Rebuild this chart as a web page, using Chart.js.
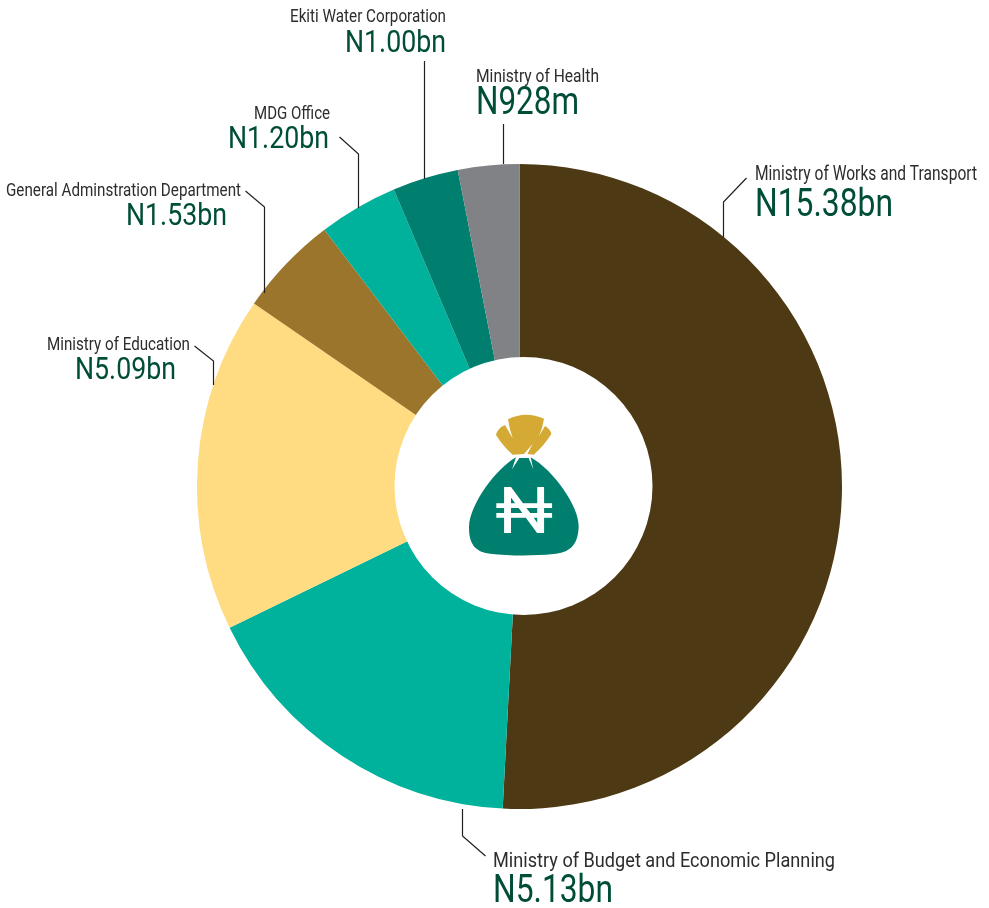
<!DOCTYPE html>
<html>
<head>
<meta charset="utf-8">
<style>html,body{margin:0;padding:0;background:#fff}canvas{display:block}</style>
<script src="https://cdn.jsdelivr.net/npm/chart.js@4/dist/chart.umd.min.js"></script>
</head>
<body>
<canvas id="c" width="989" height="908"></canvas>
<script>
const categories = ["Ministry of Works and Transport","Ministry of Budget and Economic Planning","Ministry of Education","General Adminstration Department","MDG Office","Ekiti Water Corporation","Ministry of Health"];
const values = [15.38,5.13,5.09,1.53,1.20,1.00,0.928];
const valueLabels = ["N15.38bn","N5.13bn","N5.09bn","N1.53bn","N1.20bn","N1.00bn","N928m"];
const colors = ["#4d3a14","#00b29c","#ffdc82","#9b752c","#00b29c","#007e6e","#808285"];

// Annotation layout, in page pixels, one row per category
// [align, nameX, nameBaseline, nameSize, nameWidth, valueX, valueBaseline, valueSize, valueWidth]
const labelLayout = [
  ["left",755,180,19.5,222,755,216,38,138],
  ["left",493,867,20.5,342,493,902,38,120],
  ["right",190,350,18,143,176,379,32,101],
  ["right",241,196,18,235,227,225,32,101],
  ["right",330,119,18,76,329,148,32,101],
  ["right",446,22,18,156,446,52,32,101],
  ["left",476,82,18,123,476,114,38,103]
];
const leaderLines = [
  [[746,178],[723,202],[723,237]],
  [[462,809],[462,836],[485,856]],
  [[194,346],[213,361],[213,385]],
  [[245,191],[264,207],[264,293]],
  [[339,137],[358,154],[358,208]],
  [[424,61],[424,179]],
  [[503,124],[503,164]]
];
const centreHole = {x:523.5,y:486,r:129};

const annotations = {
  id:"annotations",
  afterDraw(chart){
    const ctx = chart.ctx;
    ctx.save();
    ctx.fillStyle = "#ffffff";
    ctx.beginPath();
    ctx.arc(centreHole.x,centreHole.y,centreHole.r,0,Math.PI*2);
    ctx.fill();
    ctx.strokeStyle = "#231f20"; ctx.lineWidth = 1.2;
    leaderLines.forEach(pts=>{
      ctx.beginPath();
      pts.forEach((p,i)=> i ? ctx.lineTo(p[0]+0.5,p[1]) : ctx.moveTo(p[0]+0.5,p[1]));
      ctx.stroke();
    });
    ctx.textBaseline = "alphabetic";
    labelLayout.forEach((l,i)=>{
      ctx.textAlign = l[0];
      ctx.fillStyle = "#2e2c2d";
      ctx.font = l[3]+"px Roboto";
      ctx.fillText(categories[i],l[1],l[2],l[4]);
      ctx.fillStyle = "#004d38";
      ctx.font = l[7]+"px Roboto";
      ctx.fillText(valueLabels[i],l[5],l[6],l[8]);
    });
    // money bag icon
    ctx.translate(440,390); ctx.scale(1/3,1/3);
    ctx.fillStyle = "#d4aa35";
    ctx.beginPath();
    ctx.moveTo(204,88);
    ctx.quadraticCurveTo(255,62,312,86);
    ctx.quadraticCurveTo(308,115,297,138);
    ctx.lineTo(315,108);
    ctx.quadraticCurveTo(332,118,334,132);
    ctx.quadraticCurveTo(310,170,281,194);
    ctx.lineTo(262,192);
    ctx.lineTo(278,162);
    ctx.lineTo(252,192);
    ctx.lineTo(218,194);
    ctx.quadraticCurveTo(190,170,168,135);
    ctx.quadraticCurveTo(172,115,195,105);
    ctx.lineTo(218,145);
    ctx.quadraticCurveTo(208,115,204,88);
    ctx.closePath();
    ctx.fill();
    ctx.fillStyle = "#007e6e";
    ctx.beginPath();
    ctx.moveTo(228,202);
    ctx.lineTo(216,238);
    ctx.lineTo(238,204);
    ctx.lineTo(266,204);
    ctx.lineTo(280,238);
    ctx.lineTo(272,202);
    ctx.bezierCurveTo(340,240,418,350,416,410);
    ctx.bezierCurveTo(414,470,385,488,340,492);
    ctx.bezierCurveTo(280,498,210,498,150,491);
    ctx.bezierCurveTo(105,486,86,460,87,410);
    ctx.bezierCurveTo(90,340,170,235,228,202);
    ctx.closePath();
    ctx.fill();
    ctx.fillStyle = "#ffffff";
    ctx.textAlign = "center";
    ctx.font = "400 196px Roboto";
    ctx.translate(253,428); ctx.scale(1.12,1);
    ctx.fillText("\u20A6",0,0);
    ctx.restore();
  }
};

new Chart(document.getElementById("c"),{
  type:"doughnut",
  data:{labels:categories,datasets:[{data:values,backgroundColor:colors,borderWidth:0,hoverOffset:0}]},
  options:{
    responsive:false,animation:false,cutout:"30%",rotation:0,
    layout:{padding:{left:197,right:147,top:164,bottom:99}},
    plugins:{legend:{display:false},tooltip:{enabled:false}},
    events:[]
  },
  plugins:[annotations]
});
</script>
</body>
</html>
